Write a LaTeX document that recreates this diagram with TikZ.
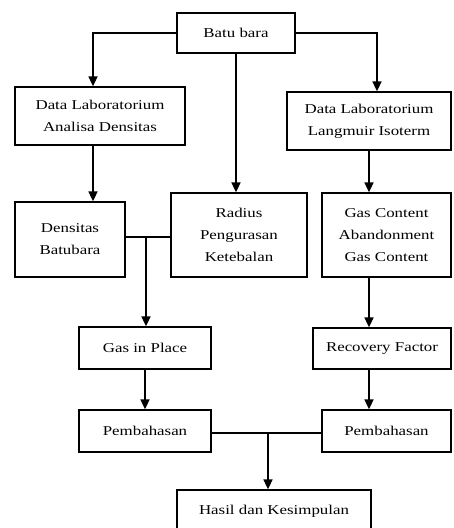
\documentclass[tikz,border=0pt]{standalone}
\usepackage{fontspec}
\setmainfont{Liberation Serif}[FakeStretch=1.25]
\usetikzlibrary{arrows.meta,positioning,calc}

\begin{document}
\begin{tikzpicture}[
    x=1pt, y=-1pt,
    box/.style={rectangle, draw, line width=1.3pt, align=center, inner sep=0pt, font=\fontsize{13.5}{22}\selectfont},
    arrow/.style={-{Triangle[width=9pt,length=10pt]}, line width=1.7pt},
    link/.style={line width=1.3pt}
]
\useasboundingbox (0,0) rectangle (453,528);

% Top
\node[box, minimum width=118, minimum height=40] (batu) at (236,33) {Batu bara};

% Data laboratorium
\node[box, minimum width=170, minimum height=58] (dla) at (100,116) {Data Laboratorium\\Analisa Densitas};
\node[box, minimum width=164, minimum height=58] (dll) at (369,121) {Data Laboratorium\\Langmuir Isoterm};

% Parameters
\node[box, minimum width=110, minimum height=75] (dens) at (70,239.5) {Densitas\\Batubara};
\node[box, minimum width=136, minimum height=84] (rad) at (239,235) {Radius\\Pengurasan\\Ketebalan};
\node[box, minimum width=129, minimum height=84] (gc) at (386.5,235) {Gas Content\\Abandonment\\Gas Content};

% Results
\node[box, minimum width=132, minimum height=42] (gip) at (145,348) {Gas in Place};
\node[box, minimum width=138, minimum height=41] (rf) at (382,348.5) {Recovery Factor};
\node[box, minimum width=132, minimum height=42] (pem1) at (145,431) {Pembahasan};
\node[box, minimum width=129, minimum height=42] (pem2) at (386.5,431) {Pembahasan};
\node[box, minimum width=194, minimum height=42] (hasil) at (274,511) {Hasil dan Kesimpulan};

% Junctions
\coordinate (j1) at (146,237);
\coordinate (j2) at (268,433);
\coordinate (rcol) at (369,0);

% Arrows
\draw[arrow] (batu.west) -| ([xshift=-7pt]dla.north);
\draw[arrow] (batu.east) -| ([xshift=8pt]dll.north);
\draw[arrow] (batu.south) -- (batu.south |- rad.north);
\draw[arrow] ([xshift=-7pt]dla.south) -- ([xshift=-7pt]dla.south |- dens.north);
\draw[arrow] (dll.south) -- (dll.south |- gc.north);
\draw[link] (j1 -| dens.east) -- (j1 -| rad.west);
\draw[arrow] (j1) -- (j1 |- gip.north);
\draw[arrow] (rcol |- gc.south) -- (rcol |- rf.north);
\draw[arrow] (gip) -- (pem1);
\draw[arrow] (rcol |- rf.south) -- (rcol |- pem2.north);
\draw[link] (j2 -| pem1.east) -- (j2 -| pem2.west);
\draw[arrow] (j2) -- (j2 |- hasil.north);

\end{tikzpicture}
\end{document}
